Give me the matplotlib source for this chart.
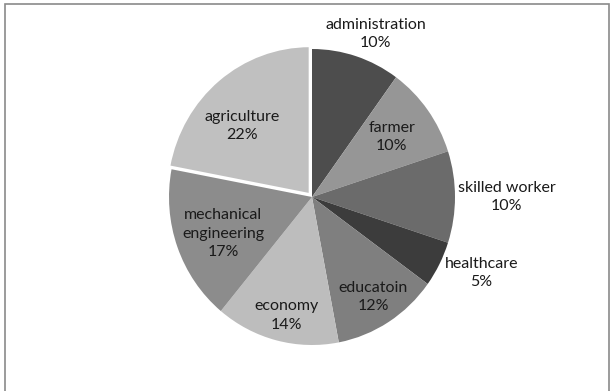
import numpy as np
import matplotlib.pyplot as plt
from matplotlib.patches import Rectangle

categories = ["administration", "farmer", "skilled worker", "healthcare",
              "educatoin", "economy", "mechanical\nengineering", "agriculture"]
shares = [10, 10, 10, 5, 12, 14, 17, 22]
colors = ["#4d4d4d", "#969696", "#6b6b6b", "#3c3c3c",
          "#7f7f7f", "#bdbdbd", "#8c8c8c", "#c0c0c0"]
explode = [0, 0, 0, 0, 0, 0, 0, 0.025]
# radial distance of each label from the pie centre, plus angular nudge
label_r = [1.19, 0.69, 1.36, 1.29, 0.80, 0.82, 0.67, 0.66]
label_shift = [-4, 0, 0, 3.6, 0, 2, 2, 6]  # degrees

plt.rcParams["font.family"] = ["Lato", "DejaVu Sans"]

fig = plt.figure(figsize=(6.12, 3.91), dpi=100)
ax = fig.add_axes([169 / 612, 46 / 391, 286 / 612, 296 / 391])

wedges, _ = ax.pie(shares, colors=colors, startangle=90, counterclock=False,
                   explode=explode, radius=1,
                   wedgeprops=dict(linewidth=0))
wedges[-1].set_edgecolor("white")
wedges[-1].set_linewidth(1.5)

for w, name, v, r, s in zip(wedges, categories, shares, label_r, label_shift):
    ang = np.deg2rad((w.theta1 + w.theta2) / 2 + s)
    cx, cy = w.center
    ax.text(cx + r * np.cos(ang), cy + r * np.sin(ang), f"{name}\n{v}%",
            ha="center", va="center", fontsize=11.5, color="#1a1a1a",
            linespacing=1.4)

ax.set_xlim(-1, 1)
ax.set_ylim(-1, 1)
ax.set_aspect("auto")
ax.axis("off")

fig.patches.append(Rectangle((5 / 612, -0.05), 604 / 612, 1.05 - 4 / 391,
                             transform=fig.transFigure, fill=False,
                             edgecolor="#8a8a8a", linewidth=1.2))

fig.savefig("out.png", dpi=100)
plt.close(fig)
